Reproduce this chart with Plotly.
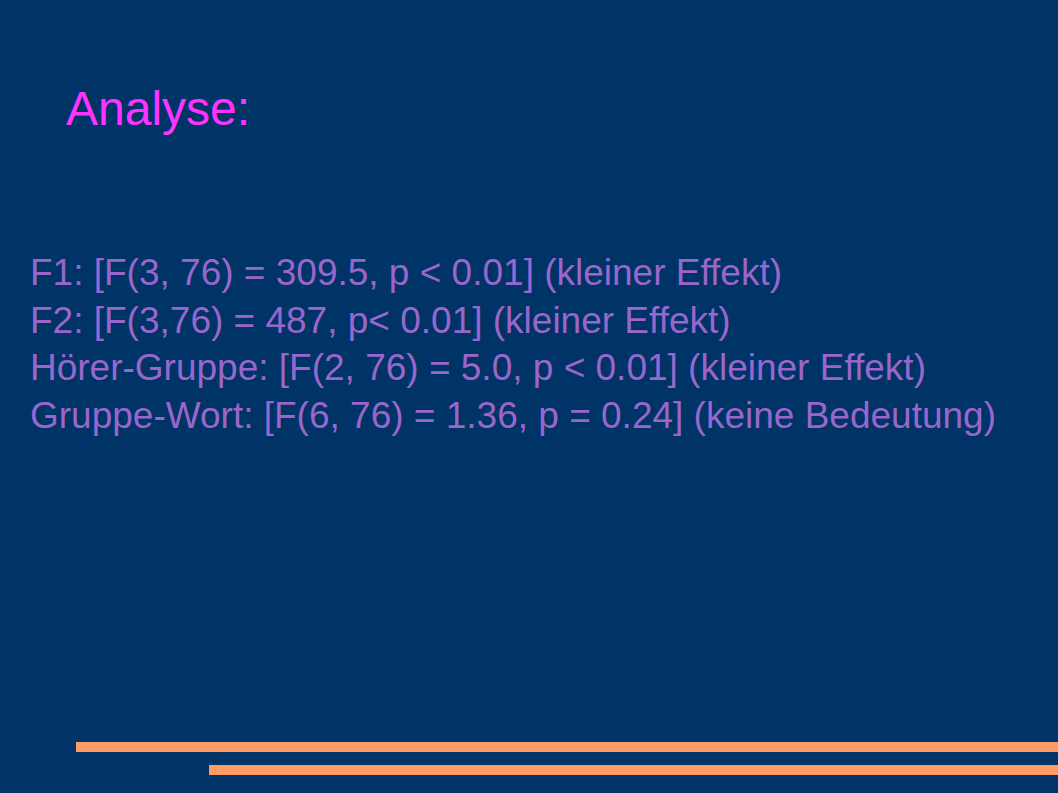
import plotly.graph_objects as go

# slide content
TITLE = "Analyse:"
LINES = [
    "F1: [F(3, 76) = 309.5, p < 0.01] (kleiner Effekt)",
    "F2: [F(3,76) = 487, p< 0.01] (kleiner Effekt)",
    "Hörer-Gruppe: [F(2, 76) = 5.0, p < 0.01] (kleiner Effekt)",
    "Gruppe-Wort: [F(6, 76) = 1.36, p = 0.24] (keine Bedeutung)",
]
LINE_Y = [272, 320, 367, 415]

# decorative orange stripes (x start, x end, y centre) in pixel units
STRIPE_X0 = [76, 209]
STRIPE_X1 = [1058, 1058]
STRIPE_Y = [747, 770]

BG = "#003366"
W, H = 1058, 793

fig = go.Figure()

for x0, x1, y in zip(STRIPE_X0, STRIPE_X1, STRIPE_Y):
    fig.add_trace(go.Scatter(x=[x0, x1], y=[y, y], mode="lines",
                             line=dict(color="#FF9966", width=10),
                             hoverinfo="skip", showlegend=False))

fig.add_annotation(x=64, y=108, text=TITLE, showarrow=False,
                   xanchor="left", yanchor="middle",
                   font=dict(family="Liberation Sans, Arial", size=48, color="#FF33FF"))

for txt, y in zip(LINES, LINE_Y):
    fig.add_annotation(x=28, y=y, text=txt, showarrow=False,
                       xanchor="left", yanchor="middle",
                       font=dict(family="Liberation Sans, Arial", size=37, color="#9966CC"))

fig.update_layout(
    width=W, height=H,
    paper_bgcolor=BG, plot_bgcolor=BG,
    margin=dict(l=0, r=0, t=0, b=0),
    xaxis=dict(range=[0, W], visible=False, fixedrange=True),
    yaxis=dict(range=[H, 0], visible=False, fixedrange=True),
    showlegend=False,
)

# page has a default body margin; drop it so the slide fills the window
fig.write_html("out.html", config={"displayModeBar": False},
               post_script="document.body.style.margin='0';document.body.style.background='#003366';")
